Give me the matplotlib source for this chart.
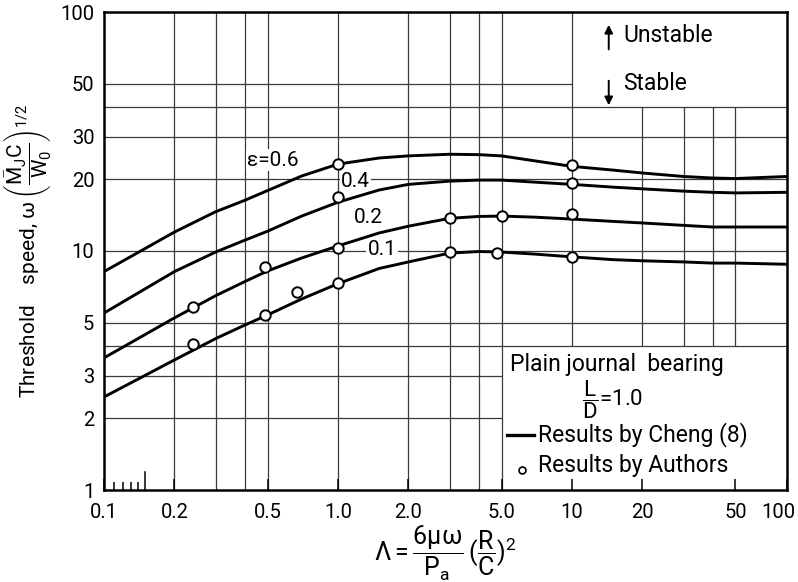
import matplotlib.pyplot as plt
from matplotlib.ticker import FixedLocator, NullFormatter
from matplotlib.transforms import ScaledTranslation

plt.rcParams['font.family'] = ['Roboto', 'DejaVu Sans']
plt.rcParams['mathtext.fontset'] = 'custom'
plt.rcParams['mathtext.rm'] = 'Roboto'
plt.rcParams['mathtext.it'] = 'Roboto'
plt.rcParams['mathtext.bf'] = 'Roboto:bold'

# Cheng (8) curves
lam = [0.1, 0.2, 0.3, 0.4, 0.5, 0.7, 1.0, 1.5, 2.0, 3.0, 4.0, 5.0, 7.0, 10, 15, 20, 30, 40, 50, 83]
cheng_06 = [8.2, 12.0, 14.6, 16.3, 17.9, 20.6, 23.1, 24.5, 25.0, 25.4, 25.3, 25.0, 23.8, 22.6, 21.8, 21.2, 20.5, 20.2, 20.1, 20.5]
cheng_04 = [5.5, 8.2, 9.9, 11.1, 12.1, 14.0, 16.0, 18.0, 19.0, 19.6, 19.8, 19.8, 19.4, 19.0, 18.5, 18.2, 17.8, 17.6, 17.5, 17.6]
cheng_02 = [3.57, 5.25, 6.5, 7.45, 8.25, 9.35, 10.5, 11.9, 12.7, 13.7, 13.95, 14.0, 13.85, 13.6, 13.3, 13.1, 12.8, 12.6, 12.6, 12.6]
cheng_01 = [2.45, 3.5, 4.3, 4.9, 5.4, 6.3, 7.3, 8.45, 9.0, 9.8, 9.95, 9.9, 9.7, 9.45, 9.2, 9.1, 9.0, 8.9, 8.9, 8.8]

# results by the authors
auth_lam_06 = [1.0, 10]
auth_06 = [23.2, 22.9]
auth_lam_04 = [1.0, 10]
auth_04 = [16.8, 19.2]
auth_lam_02 = [0.24, 0.49, 1.0, 3.0, 5.0, 10]
auth_02 = [5.85, 8.6, 10.3, 13.7, 14.0, 14.3]
auth_lam_01 = [0.24, 0.49, 0.67, 1.0, 3.0, 4.8, 10]
auth_01 = [4.08, 5.4, 6.73, 7.35, 9.9, 9.8, 9.4]

eps_labels = ['ε=0.6', '0.4', '0.2', '0.1']
x_ticks = [0.1, 0.2, 0.5, 1, 2, 5, 10, 20, 50]
x_tick_labels = ['0.1', '0.2', '0.5', '1.0', '2.0', '5.0', '10', '20', '50', '100']
y_ticks = [1, 2, 3, 5, 10, 20, 30, 50, 100]
y_tick_labels = ['1', '2', '3', '5', '10', '20', '30', '50', '100']

x_lo, x_hi = 0.1, 83   # drawn axis ends short of 100, still labelled 100
y_lo, y_hi = 1, 100

fig = plt.figure(figsize=(7.98, 5.82), dpi=100)
ax = fig.add_axes([104 / 798, 92 / 582, 683 / 798, 478 / 582])
ax.set_xscale('log')
ax.set_yscale('log')
ax.set_xlim(x_lo, x_hi)
ax.set_ylim(y_lo, y_hi)

# grid, broken where the boxes sit
gkw = dict(color='#3a3a3a', lw=0.9, zorder=1)
ax.hlines([40, 30, 20, 10, 5, 4], x_lo, x_hi, **gkw)
ax.hlines([50], x_lo, 10, **gkw)
ax.hlines([3, 2], x_lo, 5, **gkw)
ax.vlines([0.2, 0.3, 0.4, 0.5, 1, 2, 3, 4, 5], y_lo, y_hi, **gkw)
ax.vlines([10], 4, y_hi, **gkw)
ax.vlines([20, 30, 40, 50], 4, 40, **gkw)

# curves
for ys in [cheng_06, cheng_04, cheng_02, cheng_01]:
    ax.plot(lam, ys, color='black', lw=2.1, solid_joinstyle='round', zorder=4)

mkw = dict(ls='none', marker='o', ms=7.5, mfc='white', mec='black', mew=1.4, zorder=5)
ax.plot(auth_lam_06, auth_06, **mkw)
ax.plot(auth_lam_04, auth_04, **mkw)
ax.plot(auth_lam_02, auth_02, **mkw)
ax.plot(auth_lam_01, auth_01, **mkw)

# curve labels
bb = dict(facecolor='white', edgecolor='none', pad=1)
ax.text(0.41, 24.0, eps_labels[0], fontsize=15, ha='left', va='center', bbox=bb, zorder=3)
ax.text(1.03, 19.6, eps_labels[1], fontsize=15, ha='left', va='center', bbox=bb, zorder=3)
ax.text(1.17, 13.8, eps_labels[2], fontsize=15, ha='left', va='center', bbox=bb, zorder=3)
ax.text(1.34, 10.1, eps_labels[3], fontsize=15, ha='left', va='center', bbox=bb, zorder=3)

# stable / unstable
akw = dict(arrowstyle='-|>', color='black', lw=1.4, mutation_scale=12)
ax.annotate('', xy=(0.739, 0.979), xytext=(0.739, 0.916), xycoords='axes fraction',
            arrowprops=akw)
ax.annotate('', xy=(0.739, 0.799), xytext=(0.739, 0.862), xycoords='axes fraction',
            arrowprops=akw)
ax.text(0.760, 0.950, 'Unstable', transform=ax.transAxes, fontsize=16.5, va='center')
ax.text(0.760, 0.851, 'Stable', transform=ax.transAxes, fontsize=16.5, va='center')

# legend box
ax.text(0.594, 0.262, 'Plain journal  bearing', transform=ax.transAxes, fontsize=16.5, va='center')
ax.text(0.700, 0.190, r'$\dfrac{\mathrm{L}}{\mathrm{D}}$=1.0', transform=ax.transAxes,
        fontsize=16, va='center')
ax.plot([0.590, 0.630], [0.115, 0.115], transform=ax.transAxes, color='black', lw=2.4)
ax.text(0.635, 0.115, 'Results by Cheng (8)', transform=ax.transAxes, fontsize=16.5, va='center')
ax.plot([0.612], [0.042], transform=ax.transAxes, ls='none', marker='o', ms=5,
        mfc='white', mec='black', mew=1.2)
ax.text(0.635, 0.052, 'Results by Authors', transform=ax.transAxes, fontsize=16.5, va='center')

# ticks
ax.xaxis.set_major_locator(FixedLocator(x_ticks + [x_hi]))
ax.set_xticklabels(x_tick_labels)
ax.xaxis.set_minor_locator(FixedLocator([0.11, 0.12, 0.13, 0.14]))
ax.xaxis.set_minor_formatter(NullFormatter())
ax.yaxis.set_major_locator(FixedLocator(y_ticks))
ax.set_yticklabels(y_tick_labels)
ax.yaxis.set_minor_locator(FixedLocator([]))
ax.tick_params(axis='x', which='major', direction='in', length=8, width=1.1, pad=9, labelsize=14.5)
ax.tick_params(axis='x', which='minor', direction='in', length=6, width=1.1)
ax.tick_params(axis='y', which='major', direction='in', length=0, pad=7, labelsize=14.5)
ax.axvline(0.15, ymax=18 / 478, color='black', lw=1.1)

# the "100" label sits just inside the right edge
last = ax.get_xticklabels()[-1]
last.set_transform(last.get_transform() + ScaledTranslation(-6 / 72, 0, fig.dpi_scale_trans))

for s in ax.spines.values():
    s.set_linewidth(1.8)

ax.set_xlabel(r'$\Lambda = \dfrac{6\mu\omega}{\mathrm{P_a}}\,(\dfrac{\mathrm{R}}{\mathrm{C}})^2$',
              fontsize=18, labelpad=2)
ax.set_ylabel(r'Threshold    speed, $\omega\,\left(\dfrac{\bar{\mathrm{M}}_{\mathrm{J}}\mathrm{C}}{\mathrm{W_0}}\right)^{1/2}$',
              fontsize=15, labelpad=5)

fig.savefig('out.png', dpi=100)
